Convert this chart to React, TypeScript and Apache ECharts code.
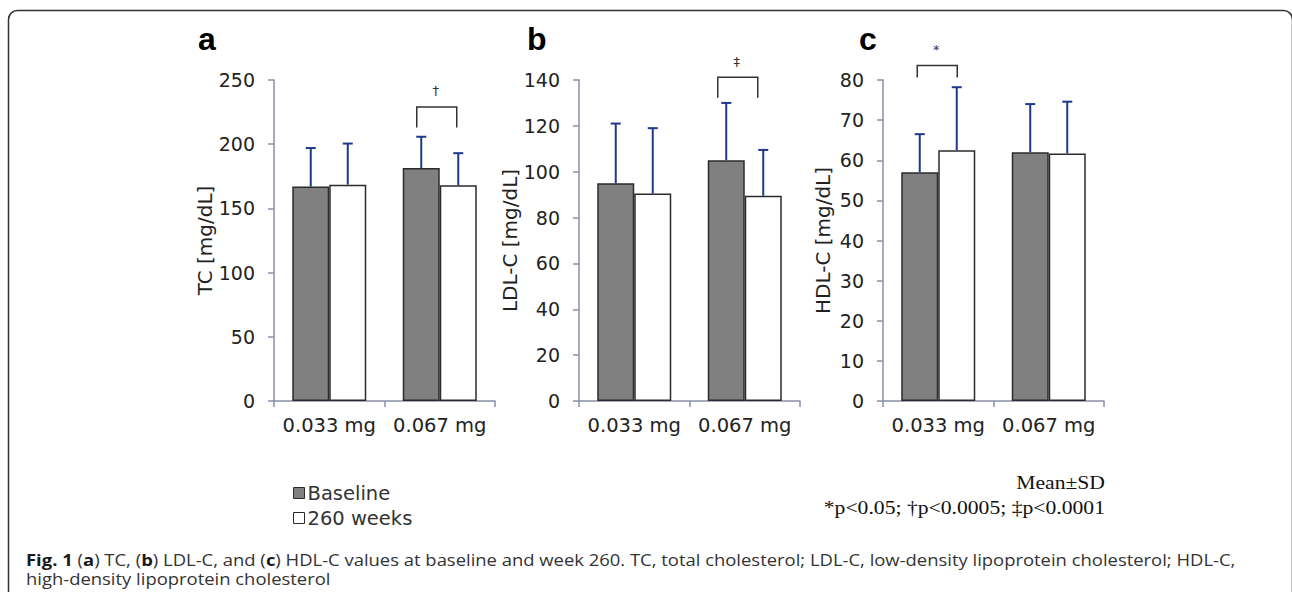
import React, { useEffect, useRef } from "react";
import * as echarts from "echarts";

const categories = ["0.033 mg", "0.067 mg"];
const seriesNames = ["Baseline", "260 weeks"];

const tcBaseline = [167, 181.5];
const tcBaselineSD = [30, 24.3];
const tcWeek260 = [168.5, 168];
const tcWeek260SD = [32, 25];

const ldlBaseline = [95, 105];
const ldlBaselineSD = [26, 25];
const ldlWeek260 = [90.5, 89.5];
const ldlWeek260SD = [28.5, 20];

const hdlBaseline = [57, 62];
const hdlBaselineSD = [9.5, 12];
const hdlWeek260 = [62.5, 61.7];
const hdlWeek260SD = [15.7, 12.9];

const yMax = [250, 140, 80];
const yInterval = [50, 20, 10];
const yNames = ["TC [mg/dL]", "LDL-C [mg/dL]", "HDL-C [mg/dL]"];
const panelLetters = ["a", "b", "c"];

// significance brackets: [panel, category index, bracket bottom value, bracket top value, symbol]
const brackets: [number, number, number, number, string][] = [
  [0, 1, 213, 229, "\u2020"],
  [1, 1, 132.3, 141.2, "\u2021"],
  [2, 0, 80.6, 83.6, "*"],
];
const bracketShift = [-3, -7, -1];

const BAR_W = 37;
const AXIS_COLOR = "#8a8eab";
const ERR_COLOR = "#1d3a8a";
const TEXT_FONT = "DejaVu Sans, Verdana, sans-serif";
const CAPTION_FONT = "Open Sans, Noto Sans, sans-serif";
const SERIF_FONT = "Liberation Serif, Times New Roman, serif";

const gridLefts = [274, 579, 883];
const gridWidth = 221;

export default function App() {
  const ref = useRef<HTMLDivElement>(null);
  useEffect(() => {
    if (!ref.current) return;
    const chart = echarts.init(ref.current, undefined, { renderer: "svg" });

    const means = [
      [tcBaseline, tcWeek260],
      [ldlBaseline, ldlWeek260],
      [hdlBaseline, hdlWeek260],
    ];
    const sds = [
      [tcBaselineSD, tcWeek260SD],
      [ldlBaselineSD, ldlWeek260SD],
      [hdlBaselineSD, hdlWeek260SD],
    ];
    const nameGaps = [55, 55, 50];

    const grids = gridLefts.map((l) => ({
      left: l,
      top: 80,
      width: gridWidth,
      height: 321,
      containLabel: false,
    }));
    const xAxes = gridLefts.map((_, i) => ({
      type: "category",
      gridIndex: i,
      data: categories,
      axisLine: { lineStyle: { color: AXIS_COLOR, width: 1.5 } },
      axisTick: { show: true, length: 6, lineStyle: { color: AXIS_COLOR, width: 1.5 } },
      axisLabel: {
        color: "#222",
        fontSize: 19.5,
        fontFamily: TEXT_FONT,
        margin: 14,
        interval: 0,
        hideOverlap: false,
      },
    }));
    const yAxes = gridLefts.map((_, i) => ({
      type: "value",
      gridIndex: i,
      min: 0,
      max: yMax[i],
      interval: yInterval[i],
      name: yNames[i],
      nameLocation: "middle",
      nameRotate: 90,
      nameGap: nameGaps[i],
      nameTextStyle: { color: "#222", fontSize: 20, fontFamily: TEXT_FONT },
      axisLine: { show: true, lineStyle: { color: AXIS_COLOR, width: 1.5 } },
      axisTick: { show: true, length: 6, lineStyle: { color: AXIS_COLOR, width: 1.5 } },
      axisLabel: { color: "#222", fontSize: 19, fontFamily: TEXT_FONT, margin: 19 },
      splitLine: { show: false },
    }));

    const series: any[] = [];
    for (let p = 0; p < 3; p++) {
      for (let s = 0; s < 2; s++) {
        series.push({
          type: "bar",
          name: seriesNames[s],
          xAxisIndex: p,
          yAxisIndex: p,
          data: means[p][s],
          barWidth: BAR_W,
          barGap: "0%",
          itemStyle: {
            color: s === 0 ? "#808080" : "#ffffff",
            borderColor: "#2b2b2b",
            borderWidth: 1.5,
          },
          z: 2,
        });
      }
      for (let s = 0; s < 2; s++) {
        const dx = s === 0 ? -BAR_W / 2 : BAR_W / 2;
        series.push({
          type: "custom",
          name: "err" + p + s,
          xAxisIndex: p,
          yAxisIndex: p,
          data: categories.map((_, i) => [i, means[p][s][i], sds[p][s][i]]),
          encode: { x: 0, y: 1 },
          z: 3,
          renderItem: (params: any, api: any) => {
            const base = api.coord([api.value(0), api.value(1)]);
            const top = api.coord([api.value(0), api.value(1) + api.value(2)]);
            const x = base[0] + dx;
            return {
              type: "group",
              children: [
                {
                  type: "line",
                  shape: { x1: x, y1: base[1], x2: x, y2: top[1] },
                  style: { stroke: ERR_COLOR, lineWidth: 2 },
                },
                {
                  type: "line",
                  shape: { x1: x - 5, y1: top[1], x2: x + 5, y2: top[1] },
                  style: { stroke: ERR_COLOR, lineWidth: 2 },
                },
              ],
            };
          },
        });
      }
    }

    brackets.forEach((b, k) => {
      const [p, cat, lo, hi, sym] = b;
      const shift = bracketShift[k];
      series.push({
        type: "custom",
        name: "bracket" + k,
        xAxisIndex: p,
        yAxisIndex: p,
        clip: false,
        data: [[cat, lo, hi]],
        encode: { x: 0, y: 1 },
        z: 4,
        renderItem: (params: any, api: any) => {
          const bot = api.coord([api.value(0), api.value(1)]);
          const top = api.coord([api.value(0), api.value(2)]);
          const cx = bot[0] + shift;
          return {
            type: "group",
            children: [
              {
                type: "polyline",
                shape: {
                  points: [
                    [cx - 20, bot[1]],
                    [cx - 20, top[1]],
                    [cx + 20, top[1]],
                    [cx + 20, bot[1]],
                  ],
                },
                style: { stroke: "#333", lineWidth: 1.5, fill: "none" },
              },
              {
                type: "text",
                x: cx - 1,
                y: top[1] - 16,
                style: {
                  text: sym,
                  fontSize: 13,
                  fontFamily: TEXT_FONT,
                  fill: "#333",
                  align: "center",
                  verticalAlign: "middle",
                },
              },
            ],
          };
        },
      });
    });

    const captionLine1 =
      "{b|Fig. 1} ({b|a}) TC, ({b|b}) LDL-C, and ({b|c}) HDL-C values at baseline and week 260. TC, total cholesterol; LDL-C, low-density lipoprotein cholesterol; HDL-C,";
    const captionLine2 = "high-density lipoprotein cholesterol";

    const graphic: any[] = [
      {
        type: "rect",
        shape: { x: 8.5, y: 10.5, width: 1284, height: 620, r: 9 },
        style: { fill: "none", stroke: "#333", lineWidth: 1.5 },
        silent: true,
      },
      ...panelLetters.map((t, i) => ({
        type: "text",
        x: [198, 527, 859][i],
        y: 23,
        style: {
          text: t,
          fontSize: 32,
          fontWeight: "bold",
          fontFamily: "Liberation Sans, Arial, sans-serif",
          fill: "#000",
          verticalAlign: "top",
        },
      })),
      {
        type: "text",
        x: 1105,
        y: 482,
        scaleX: 1.11,
        style: {
          text: "Mean\u00b1SD",
          fontSize: 19.5,
          fontFamily: SERIF_FONT,
          fill: "#111",
          align: "right",
          verticalAlign: "middle",
        },
      },
      {
        type: "text",
        x: 1105,
        y: 507,
        scaleX: 1.11,
        style: {
          text: "*p<0.05; \u2020p<0.0005; \u2021p<0.0001",
          fontSize: 19.5,
          fontFamily: SERIF_FONT,
          fill: "#111",
          align: "right",
          verticalAlign: "middle",
        },
      },
      {
        type: "text",
        x: 26,
        y: 560,
        scaleX: 1.19,
        style: {
          text: captionLine1,
          fontSize: 15.5,
          fontFamily: CAPTION_FONT,
          fill: "#333",
          verticalAlign: "middle",
          rich: {
            b: {
              fontSize: 15.5,
              fontWeight: "bold",
              fontFamily: CAPTION_FONT,
              fill: "#1a1a1a",
            },
          },
        },
      },
      {
        type: "text",
        x: 26,
        y: 579,
        scaleX: 1.19,
        style: {
          text: captionLine2,
          fontSize: 15.5,
          fontFamily: CAPTION_FONT,
          fill: "#333",
          verticalAlign: "middle",
        },
      },
    ];

    chart.setOption({
      animation: false,
      backgroundColor: "#ffffff",
      grid: grids,
      xAxis: xAxes,
      yAxis: yAxes,
      legend: {
        data: seriesNames,
        orient: "vertical",
        left: 293,
        top: 483,
        padding: 0,
        icon: "rect",
        itemWidth: 11,
        itemHeight: 11,
        itemGap: 5,
        selectedMode: false,
        itemStyle: { borderColor: "#2b2b2b", borderWidth: 1 },
        textStyle: {
          color: "#333",
          fontSize: 19.5,
          fontFamily: TEXT_FONT,
          lineHeight: 20,
          padding: [0, 0, 0, -2],
        },
      },
      series,
      graphic,
    });

    return () => chart.dispose();
  }, []);

  return (
    <div
      ref={ref}
      style={{ position: "absolute", left: 0, top: 0, width: 1292, height: 592 }}
    />
  );
}
